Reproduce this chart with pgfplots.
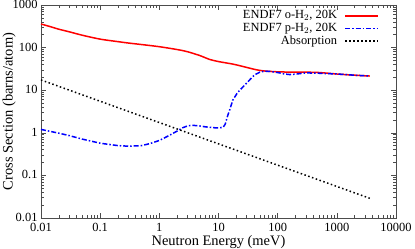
\documentclass[border=0pt]{standalone}
\usepackage{pgfplots}
\pgfplotsset{compat=1.18}
\usepackage{fontspec}
\setmainfont{Liberation Serif}
\newfontfamily\tms{Liberation Serif}
\begin{document}
\tms
\begin{tikzpicture}[font=\tms]
\useasboundingbox (-41bp,-31bp) rectangle (374bp,218bp);
\begin{loglogaxis}[
  scale only axis, width=355bp, height=213bp,
  at={(0,0)}, anchor=south west,
  xmin=0.01, xmax=10000, ymin=0.01, ymax=1000,
  xtick={0.01,0.1,1,10,100,1000,10000},
  xticklabels={0.01,0.1,1,10,100,1000,10000},
  ytick={0.01,0.1,1,10,100,1000},
  yticklabels={0.01,0.1,1,10,100,1000},
  major tick length=5bp, minor tick length=3bp,
  tick align=inside,
  axis line style={line width=0.8bp, black!70},
  every tick/.style={black!70, line width=0.6bp},
  tick label style={font=\tms\fontsize{12.5}{14}\selectfont},
  xticklabel style={yshift=-1.5bp},
  yticklabel style={yshift=0.5bp},
  xlabel={Neutron Energy (meV)},
  ylabel={Cross Section (barns/atom)},
  xlabel style={font=\tms\fontsize{14.5}{16}\selectfont, at={(axis description cs:0.5,-0.1268)}, anchor=base},
  ylabel style={font=\tms\fontsize{14.5}{16}\selectfont, at={(axis description cs:-0.0704,0.5)}, anchor=south, inner sep=0pt},
  legend cell align=right,
  legend plot pos=right,
  legend image code/.code={\draw[#1] (0bp,0bp) -- (33bp,0bp);},
  legend style={draw=none, fill=none, at={(axis description cs:1,1)}, anchor=north east,
    xshift=-17bp, yshift=-4.5bp, inner sep=0pt,
    font=\tms\fontsize{12.5}{14}\selectfont,
    nodes={inner sep=0.3bp, text height=9bp, text depth=3bp},
    /tikz/every odd column/.append style={column sep=7bp}},
]
\addplot[red, line width=1.5bp, smooth] coordinates {
(0.01,358) (0.015,305) (0.02,270) (0.03,235) (0.05,195) (0.1,158) (0.2,138) (0.3,128) (0.5,118)
(1,105) (2,90) (3,80) (5,64) (7,53) (10,47) (17.5,41) (26,36) (40,31) (56,28.5) (100,27)
(200,26.5) (300,26.5) (500,26) (1000,24) (2000,22.5) (3600,21.5)};
\addlegendentry{ENDF7 o-H$_2$, 20K}
\addplot[blue, line width=1.5bp, dash pattern=on 5bp off 2bp on 1.5bp off 2bp] coordinates {
(0.01,1.2) (0.02,0.98) (0.03,0.86) (0.05,0.71) (0.1,0.57) (0.2,0.5) (0.3,0.485) (0.5,0.5) (0.7,0.56)
(1,0.66) (1.5,0.88) (2,1.1) (2.5,1.32) (3,1.45) (3.5,1.5) (4.5,1.47) (6,1.38) (8,1.32) (10,1.3)
(12,1.35) (13,1.6) (14,2.3) (15.5,3.5) (17.5,5.9) (21,8.8) (26,12) (33,17) (41,23) (50,26.5)
(60,28) (75,27.5) (100,26) (130,24) (160,23.3) (200,23.8) (300,25.5) (500,25) (1000,24)
(2000,22.5) (3600,21.5)};
\addlegendentry{ENDF7 p-H$_2$, 20K}
\addplot[black, line width=1.5bp, dash pattern=on 1.5bp off 2.5bp] coordinates {
(0.01,17.4) (1,1.74) (100,0.174) (3600,0.029)};
\addlegendentry{Absorption}
\end{loglogaxis}
\end{tikzpicture}
\end{document}
